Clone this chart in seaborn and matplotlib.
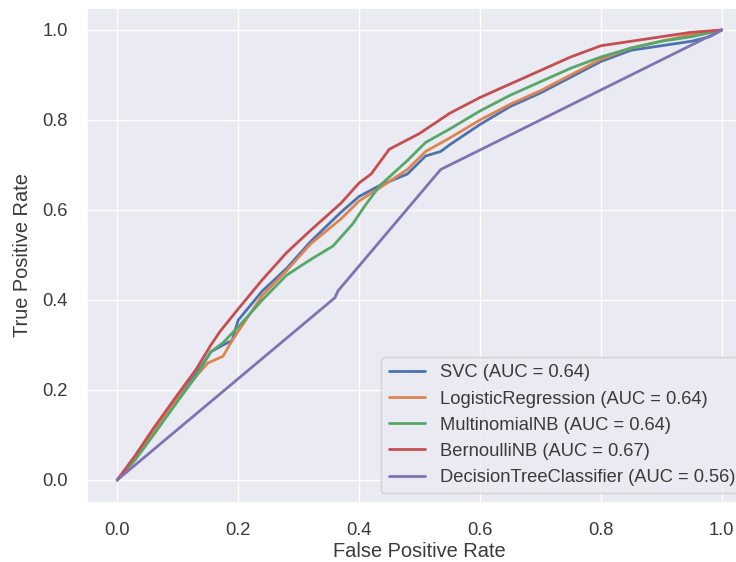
import numpy as np
import pandas as pd
import matplotlib
matplotlib.use("Agg")
import matplotlib.pyplot as plt
import seaborn as sns

# ---- data ----
model_names = [
    "SVC (AUC = 0.64)",
    "LogisticRegression (AUC = 0.64)",
    "MultinomialNB (AUC = 0.64)",
    "BernoulliNB (AUC = 0.67)",
    "DecisionTreeClassifier (AUC = 0.56)",
]

svc_fpr = [0, 0.03, 0.06, 0.1, 0.13, 0.155, 0.175, 0.19, 0.2, 0.24, 0.28, 0.32, 0.37, 0.4,
           0.435, 0.48, 0.51, 0.535, 0.55, 0.6, 0.65, 0.7, 0.75, 0.8, 0.85, 0.9, 0.95, 0.98, 1.0]
svc_tpr = [0, 0.05, 0.105, 0.18, 0.235, 0.285, 0.3, 0.31, 0.355, 0.42, 0.47, 0.53, 0.595, 0.63,
           0.655, 0.68, 0.72, 0.73, 0.745, 0.79, 0.83, 0.86, 0.895, 0.93, 0.955, 0.965, 0.975, 0.985, 1.0]

lr_fpr = [0, 0.03, 0.06, 0.1, 0.13, 0.15, 0.175, 0.19, 0.21, 0.24, 0.28, 0.32, 0.37, 0.4,
          0.435, 0.48, 0.51, 0.55, 0.6, 0.65, 0.7, 0.75, 0.8, 0.85, 0.9, 0.95, 1.0]
lr_tpr = [0, 0.05, 0.105, 0.18, 0.23, 0.26, 0.275, 0.31, 0.35, 0.41, 0.465, 0.525, 0.58, 0.62,
          0.65, 0.69, 0.73, 0.76, 0.80, 0.835, 0.865, 0.9, 0.935, 0.96, 0.975, 0.99, 1.0]

mnb_fpr = [0, 0.03, 0.06, 0.1, 0.13, 0.155, 0.175, 0.2, 0.24, 0.28, 0.32, 0.357, 0.39, 0.41,
           0.435, 0.48, 0.51, 0.55, 0.6, 0.65, 0.7, 0.75, 0.8, 0.85, 0.9, 0.95, 1.0]
mnb_tpr = [0, 0.045, 0.1, 0.175, 0.23, 0.285, 0.305, 0.34, 0.40, 0.455, 0.49, 0.52, 0.57, 0.61,
           0.655, 0.71, 0.75, 0.78, 0.82, 0.855, 0.885, 0.915, 0.94, 0.96, 0.975, 0.985, 1.0]

bnb_fpr = [0, 0.03, 0.06, 0.1, 0.13, 0.155, 0.17, 0.2, 0.24, 0.28, 0.32, 0.37, 0.4, 0.42,
           0.45, 0.5, 0.55, 0.6, 0.65, 0.7, 0.75, 0.8, 0.85, 0.9, 0.95, 1.0]
bnb_tpr = [0, 0.055, 0.115, 0.19, 0.245, 0.3, 0.33, 0.38, 0.445, 0.505, 0.555, 0.615, 0.66, 0.68,
           0.735, 0.77, 0.815, 0.85, 0.88, 0.91, 0.94, 0.965, 0.975, 0.985, 0.995, 1.0]

dt_fpr = [0, 0.36, 0.365, 0.535, 1.0]
dt_tpr = [0, 0.405, 0.42, 0.69, 1.0]

xticks = [0.0, 0.2, 0.4, 0.6, 0.8, 1.0]
yticks = [0.0, 0.2, 0.4, 0.6, 0.8, 1.0]

# ---- build long-form table ----
curves = [(svc_fpr, svc_tpr), (lr_fpr, lr_tpr), (mnb_fpr, mnb_tpr),
          (bnb_fpr, bnb_tpr), (dt_fpr, dt_tpr)]
frames = []
for name, (fx, ty) in zip(model_names, curves):
    frames.append(pd.DataFrame({"fpr": fx, "tpr": ty, "model": name}))
df = pd.concat(frames, ignore_index=True)

sns.set_theme(style="darkgrid")
plt.rcParams["font.family"] = ["Liberation Sans", "DejaVu Sans"]

fig = plt.figure(figsize=(7.36, 5.62), dpi=100)
ax = fig.add_axes([87 / 736, (562 - 502.5) / 562, 665 / 736, 495 / 562])

sns.lineplot(data=df, x="fpr", y="tpr", hue="model", hue_order=model_names,
             palette=sns.color_palette("deep", 5), estimator=None, sort=False,
             units="model", linewidth=2, ax=ax)

ax.set_xlim(-0.05, 1.05)
ax.set_ylim(-0.05, 1.05)
ax.set_xticks(xticks)
ax.set_yticks(yticks)
ax.tick_params(labelsize=13.2, colors="#3a3a3a", pad=8)
ax.set_xlabel("False Positive Rate", fontsize=14.4, color="#3a3a3a", labelpad=2)
ax.set_ylabel("True Positive Rate", fontsize=14.4, color="#3a3a3a", labelpad=7.5)

leg = ax.legend(loc="lower right", fontsize=13.2, frameon=True, title=None)
for t in leg.get_texts():
    t.set_color("#3a3a3a")

fig.savefig("out.png", dpi=100)
